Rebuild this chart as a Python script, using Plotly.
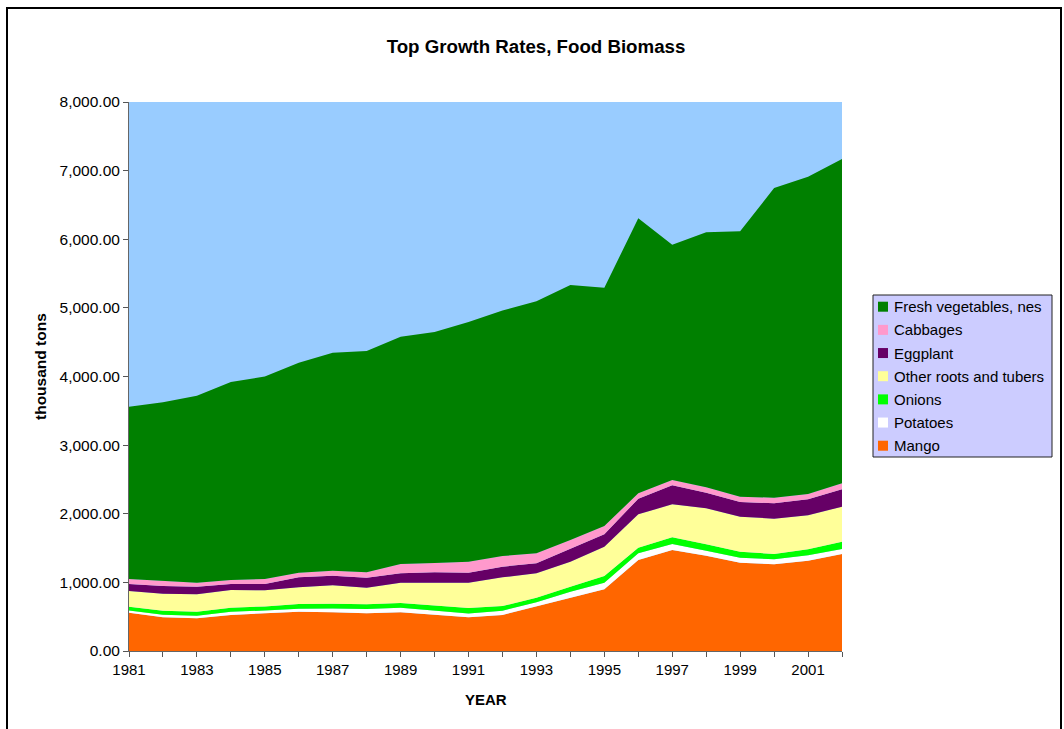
import plotly.graph_objects as go

years = list(range(1981, 2003))

mango = [558, 491, 476, 525, 549, 573, 565, 549, 563, 525, 491,
         525, 646, 777, 899, 1326, 1472, 1389, 1287, 1263, 1316, 1413]
potatoes = [32, 38, 39, 48, 41, 43, 55, 63, 69, 68, 54,
            62, 63, 87, 97, 97, 87, 73, 73, 73, 78, 73]
onions = [56, 58, 58, 58, 60, 69, 70, 68, 68, 68, 80,
          69, 68, 73, 97, 82, 98, 93, 87, 77, 88, 107]
other_roots = [228, 248, 253, 258, 234, 243, 267, 243, 296, 335, 371,
               418, 355, 365, 427, 487, 480, 524, 510, 515, 495, 510]
eggplant = [102, 112, 111, 87, 92, 146, 140, 146, 136, 151, 145,
            155, 146, 184, 180, 228, 277, 228, 214, 224, 233, 253]
cabbages = [73, 78, 58, 59, 73, 67, 73, 78, 136, 135, 159,
            155, 145, 131, 121, 78, 78, 78, 78, 82, 78, 88]
fresh_veg = [2509, 2600, 2725, 2885, 2951, 3059, 3175, 3225, 3312, 3368, 3495,
             3576, 3672, 3716, 3471, 4009, 3428, 3718, 3866, 4511, 4622, 4726]

# bottom-to-top stacking order
series = [
    ("Mango", mango, "#FF6600"),
    ("Potatoes", potatoes, "#FFFFFF"),
    ("Onions", onions, "#00FF00"),
    ("Other roots and tubers", other_roots, "#FFFF99"),
    ("Eggplant", eggplant, "#660066"),
    ("Cabbages", cabbages, "#FF99CC"),
    ("Fresh vegetables, nes", fresh_veg, "#008000"),
]

FONT = "Arial, Liberation Sans, sans-serif"
W, H = 1064, 729
L, R, T, B = 129, 842, 102, 651          # plot area edges in pixels
PW, PH = R - L, B - T


def px_x(x):
    return (x - L) / PW


def px_y(y):
    return (B - y) / PH


fig = go.Figure()
for name, vals, color in series:
    fig.add_trace(go.Scatter(
        x=years, y=vals, name=name, mode="lines",
        stackgroup="food", line=dict(width=0, color=color),
        fillcolor=color, showlegend=False,
    ))

tick_text = [str(y) if (y - years[0]) % 2 == 0 else "" for y in years]

fig.update_layout(
    width=W, height=H,
    margin=dict(l=L, r=W - R, t=T, b=H - B),
    paper_bgcolor="white",
    plot_bgcolor="#99CCFF",
    font=dict(family=FONT, size=15, color="black"),
    title=dict(text="<b>Top Growth Rates, Food Biomass</b>",
               x=536 / W, xanchor="center", y=1 - 46 / H, yanchor="middle",
               font=dict(size=18.7, family=FONT)),
    showlegend=False,
    xaxis=dict(
        range=[years[0], years[-1]], tickvals=years, ticktext=tick_text,
        ticks="outside", ticklen=5, tickcolor="#555555",
        showline=True, linecolor="#666666", linewidth=1,
        showgrid=False, zeroline=False, tickfont=dict(size=15),
    ),
    yaxis=dict(
        range=[0, 8000], dtick=1000, tickformat=",.2f",
        ticks="outside", ticklen=5, tickcolor="#555555",
        showline=True, linecolor="#666666", linewidth=1,
        showgrid=False, zeroline=False, tickfont=dict(size=15.5),
    ),
)

# axis titles
fig.add_annotation(text="<b>YEAR</b>", xref="paper", yref="paper",
                   x=px_x(486), y=px_y(699), showarrow=False,
                   font=dict(size=15, family=FONT), xanchor="center", yanchor="middle")
fig.add_annotation(text="<b>thousand tons</b>", xref="paper", yref="paper",
                   x=px_x(40), y=px_y(367), showarrow=False, textangle=-90,
                   font=dict(size=15.5, family=FONT), xanchor="center", yanchor="middle")

# legend box: top entry is the top of the stack
fig.add_shape(type="rect", xref="paper", yref="paper",
              x0=px_x(873), x1=px_x(1052), y0=px_y(457), y1=px_y(295),
              line=dict(color="#222222", width=1), fillcolor="#CCCCFF")
row_top, row_step = 306.7, 23.17
for i, (name, _, color) in enumerate(reversed(series)):
    cy = row_top + i * row_step
    fig.add_shape(type="rect", xref="paper", yref="paper",
                  x0=px_x(878), x1=px_x(888), y0=px_y(cy + 5), y1=px_y(cy - 5),
                  line=dict(width=0), fillcolor=color)
    fig.add_annotation(text=name, xref="paper", yref="paper",
                       x=px_x(892), y=px_y(cy), showarrow=False,
                       xanchor="left", yanchor="middle",
                       font=dict(size=15, family=FONT, color="black"))

# outer chart border
fig.add_shape(type="rect", xref="paper", yref="paper",
              x0=px_x(7), x1=px_x(1061), y0=px_y(740), y1=px_y(8),
              line=dict(color="black", width=2), fillcolor="rgba(0,0,0,0)",
              layer="below")

fig.write_html("out.html")
